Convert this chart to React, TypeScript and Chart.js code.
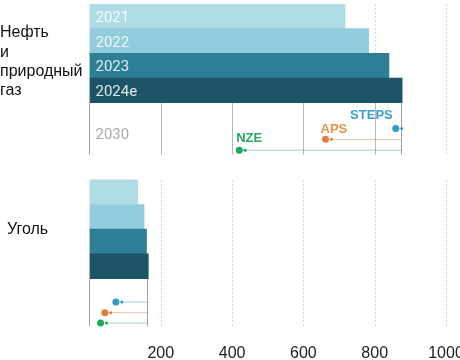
import React, { useEffect, useRef } from 'react';
import { Chart, registerables } from 'chart.js';

Chart.register(...registerables);

// ---- data ----
const years = ['2021', '2022', '2023', '2024e'];
const oilValues = [717, 783, 840, 877];
const coalValues = [135, 153, 160, 165];
const scenarios = ['STEPS', 'APS', 'NZE'];
const oilScenarios2030 = [859, 662, 420];
const coalScenarios2030 = [74, 43, 31];
const xTicks = [200, 400, 600, 800, 1000];
const oilLabelLines = ['Нефть', 'и', 'природный', 'газ'];
const coalLabelLines = ['Уголь'];
const projectionYear = '2030';

// ---- layout (row positions on the vertical linear scale) ----
const oilBarRows = [0, 1, 2, 3];
const coalBarRows = [7.12, 8.12, 9.12, 10.12];
const oilScenarioRows = [4.54, 4.98, 5.42];
const coalScenarioRows = [11.57, 12.0, 12.42];
const oilBox = [3.5, 5.6];
const coalBox = [10.62, 12.54];
const coalTop = 6.62;
const Y_MIN = -0.5;
const Y_MAX = 12.54;

// ---- styles ----
const barColors = ['#b0dce6', '#92cbdb', '#2e7f96', '#1e5566'];
const scenarioColors = ['#2b9ccb', '#e07b39', '#1fa85a'];
const scenarioLineColors = ['rgba(43,156,203,0.45)', 'rgba(224,123,57,0.45)', 'rgba(31,168,90,0.45)'];
const scenarioTextColors = ['#3aa0d0', '#e8914a', '#28a862'];
const scenarioLabelOffsets = [
  { dx: -3, dy: -13, align: 'right' },
  { dx: -5, dy: -10, align: 'left' },
  { dx: -3, dy: -12, align: 'left' },
];
const FONT = '"Liberation Sans", Arial, sans-serif';

export default function App() {
  const ref = useRef<HTMLCanvasElement>(null);

  useEffect(() => {
    document.body.style.margin = '0';
    const canvas = ref.current!;

    const barData = [
      ...oilValues.map((v, i) => ({ x: v, y: oilBarRows[i] })),
      ...coalValues.map((v, i) => ({ x: v, y: coalBarRows[i] })),
    ];
    const barBg = [...barColors, ...barColors];

    const lineSets: any[] = [];
    scenarios.forEach((s, i) => {
      lineSets.push({
        type: 'line',
        label: s + ' oil',
        data: [
          { x: oilValues[3], y: oilScenarioRows[i] },
          { x: oilScenarios2030[i], y: oilScenarioRows[i] },
        ],
        borderColor: scenarioLineColors[i],
        borderWidth: 1,
        pointRadius: [0, 3.5],
        pointBackgroundColor: scenarioColors[i],
        pointBorderWidth: 0,
        clip: false,
      });
      lineSets.push({
        type: 'line',
        label: s + ' coal',
        data: [
          { x: coalValues[3], y: coalScenarioRows[i] },
          { x: coalScenarios2030[i], y: coalScenarioRows[i] },
        ],
        borderColor: scenarioLineColors[i],
        borderWidth: 1,
        pointRadius: [0, 3.5],
        pointBackgroundColor: scenarioColors[i],
        pointBorderWidth: 0,
        clip: false,
      });
    });

    const panelPlugin = {
      id: 'panels',
      beforeDatasetsDraw(chart: any) {
        const { ctx, scales } = chart;
        const x = scales.x;
        const y = scales.y;
        const panels = [
          { top: y.getPixelForValue(Y_MIN), boxTop: y.getPixelForValue(oilBox[0]), bottom: y.getPixelForValue(oilBox[1]), v: oilValues[3] },
          { top: y.getPixelForValue(coalTop), boxTop: y.getPixelForValue(coalBox[0]), bottom: y.getPixelForValue(coalBox[1]), v: coalValues[3] },
        ];
        ctx.save();
        ctx.lineWidth = 1;
        for (const p of panels) {
          for (const t of xTicks) {
            const px = Math.round(x.getPixelForValue(t)) + 0.5;
            ctx.strokeStyle = '#d4d4d4';
            ctx.setLineDash([2, 2]);
            ctx.beginPath();
            ctx.moveTo(px, p.top);
            ctx.lineTo(px, p.bottom);
            ctx.stroke();
            if (t < p.v) {
              ctx.setLineDash([]);
              ctx.strokeStyle = '#b8b8b8';
              ctx.beginPath();
              ctx.moveTo(px, p.boxTop);
              ctx.lineTo(px, p.bottom);
              ctx.stroke();
            }
          }
          ctx.setLineDash([]);
          ctx.strokeStyle = '#a0a0a0';
          for (const v of [0, p.v]) {
            const px = Math.round(x.getPixelForValue(v)) - 0.5;
            ctx.beginPath();
            ctx.moveTo(px, p.boxTop);
            ctx.lineTo(px, p.bottom);
            ctx.stroke();
          }
        }
        ctx.restore();
      },
      afterDatasetsDraw(chart: any) {
        const { ctx, scales } = chart;
        const x = scales.x;
        const y = scales.y;
        ctx.save();
        // year labels inside bars
        ctx.font = '15px Roboto, ' + FONT;
        ctx.textBaseline = 'middle';
        ctx.textAlign = 'left';
        const x0 = x.getPixelForValue(0);
        years.forEach((yr, i) => {
          ctx.fillStyle = 'rgba(255,255,255,0.85)';
          ctx.fillText(yr, x0 + 6, y.getPixelForValue(oilBarRows[i]) + 2);
        });
        ctx.fillStyle = '#aaaaaa';
        ctx.fillText(projectionYear, x0 + 6, y.getPixelForValue(4.82));

        // small secondary dots
        scenarios.forEach((s, i) => {
          ctx.fillStyle = scenarioColors[i];
          const rows = [
            [oilScenarios2030[i], oilScenarioRows[i]],
            [coalScenarios2030[i], coalScenarioRows[i]],
          ];
          for (const [v, r] of rows) {
            ctx.beginPath();
            ctx.arc(x.getPixelForValue(v) + 6, y.getPixelForValue(r), 1.5, 0, Math.PI * 2);
            ctx.fill();
          }
        });

        // scenario labels (oil)
        ctx.font = 'bold 13px ' + FONT;
        scenarios.forEach((s, i) => {
          const o = scenarioLabelOffsets[i];
          ctx.fillStyle = scenarioTextColors[i];
          ctx.textAlign = o.align as CanvasTextAlign;
          ctx.fillText(
            s,
            x.getPixelForValue(oilScenarios2030[i]) + o.dx,
            y.getPixelForValue(oilScenarioRows[i]) + o.dy
          );
        });

        // group labels
        ctx.font = '16px ' + FONT;
        ctx.fillStyle = '#111111';
        ctx.textAlign = 'left';
        const oilCenter = y.getPixelForValue(1.5) + 8.5;
        oilLabelLines.forEach((line, i) => {
          ctx.fillText(line, 0, oilCenter + (i - (oilLabelLines.length - 1) / 2) * 19.2);
        });
        const coalCenter = y.getPixelForValue((coalBarRows[0] + coalBarRows[3]) / 2);
        coalLabelLines.forEach((line, i) => {
          ctx.fillText(line, 7, coalCenter + (i - (coalLabelLines.length - 1) / 2) * 19.2);
        });
        ctx.restore();
      },
    };

    const chart = new Chart(canvas, {
      type: 'bar',
      data: {
        datasets: [
          {
            type: 'bar',
            label: 'bars',
            data: barData,
            backgroundColor: barBg,
            barPercentage: 1,
            categoryPercentage: 1,
            borderWidth: 0,
          } as any,
          ...lineSets,
        ],
      },
      options: {
        indexAxis: 'y',
        responsive: false,
        animation: false,
        devicePixelRatio: 1,
        layout: { padding: { left: 89.5, right: 14, top: 0, bottom: 0 } },
        plugins: {
          legend: { display: false },
          tooltip: { enabled: false },
        },
        scales: {
          x: {
            type: 'linear',
            min: 0,
            max: 1000,
            grid: { display: false, drawTicks: false },
            border: { display: false },
            ticks: {
              stepSize: 200,
              padding: 20,
              color: '#222222',
              font: { size: 16, family: FONT, lineHeight: 1 },
              callback: (v: any) => (v === 0 ? '' : String(v)),
            },
            afterFit: (scale: any) => {
              scale.paddingLeft = 0;
              scale.paddingRight = 0;
              scale.height = 34;
            },
          },
          y: {
            type: 'linear',
            reverse: true,
            offset: false,
            grid: { offset: false },
            min: Y_MIN,
            max: Y_MAX,
            display: false,
          },
        },
      } as any,
      plugins: [panelPlugin],
    });

    return () => chart.destroy();
  }, []);

  return (
    <div style={{ width: 460, height: 360 }}>
      <canvas ref={ref} width={460} height={360} style={{ display: 'block' }} />
    </div>
  );
}
